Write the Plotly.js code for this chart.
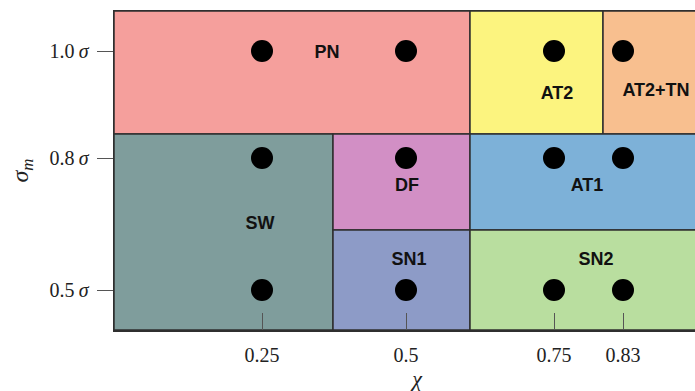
<!DOCTYPE html>
<html>
<head>
<meta charset="utf-8">
<script src="https://cdn.plot.ly/plotly-3.0.1.min.js"></script>
<style>
  html, body { margin: 0; padding: 0; overflow: hidden; background: #fff; }
  #chart { width: 720px; height: 391px; }
</style>
</head>
<body>
<div id="chart"></div>
<script>
// Column positions on the horizontal layout axis and their χ labels
const chiPos = [1.48, 2.92, 4.40, 5.09];
const chiLabels = ['0.25', '0.5', '0.75', '0.83'];

// Row positions on the vertical layout axis and their σ_m labels
const sigmaPos = [0.40, 1.72, 2.79];
const sigmaLabels = ['0.5\u2009<i>σ</i>', '0.8\u2009<i>σ</i>', '1.0\u2009<i>σ</i>'];

// Simulated parameter points (column index, row index)
const pointCol = [0, 1, 2, 3, 0, 1, 2, 3, 0, 1, 2, 3];
const pointRow = [2, 2, 2, 2, 1, 1, 1, 1, 0, 0, 0, 0];

// Phase regions: name, bounds and fill colour
const regionNames = ['PN', 'AT2', 'AT2+TN', 'SW', 'DF', 'SN1', 'AT1', 'SN2'];
const regionX0 = [0.00, 3.56, 4.89, 0.00, 2.19, 2.19, 3.56, 3.56];
const regionX1 = [3.56, 4.89, 7.00, 2.19, 3.56, 3.56, 7.00, 7.00];
const regionY0 = [1.96, 1.96, 1.96, 0.00, 1.00, 0.00, 1.00, 0.00];
const regionY1 = [3.19, 3.19, 3.19, 1.96, 1.96, 1.00, 1.96, 1.00];
const regionColors = ['#f59f9c', '#fcf47f', '#f8bf8f', '#7f9d9c', '#d28fc5', '#8d9bc7', '#7db1d8', '#b9de9f'];
const labelX = [2.13, 4.43, 5.42, 1.46, 2.93, 2.95, 4.73, 4.82];
const labelY = [2.77, 2.36, 2.39, 1.06, 1.44, 0.70, 1.44, 0.70];

const shapes = regionNames.map((n, i) => ({
  type: 'rect', xref: 'x', yref: 'y', layer: 'below',
  x0: regionX0[i], x1: regionX1[i], y0: regionY0[i], y1: regionY1[i],
  fillcolor: regionColors[i],
  line: { color: '#2f2f2f', width: 1.5 }
}));

const points = {
  type: 'scatter', mode: 'markers',
  x: pointCol.map(c => chiPos[c]),
  y: pointRow.map(r => sigmaPos[r]),
  marker: { color: '#000', size: 22 },
  hoverinfo: 'skip', showlegend: false
};

const labels = {
  type: 'scatter', mode: 'text',
  x: labelX, y: labelY, text: regionNames,
  textfont: { family: 'Liberation Sans, Arial, sans-serif', size: 18, color: '#111' },
  texttemplate: '<b>%{text}</b>',
  hoverinfo: 'skip', showlegend: false
};

const tickFont = { family: 'Liberation Serif, serif', size: 20, color: '#222' };

const layout = {
  width: 720, height: 391,
  margin: { l: 114, r: 0, t: 11, b: 61 },
  paper_bgcolor: '#fff', plot_bgcolor: '#fff',
  showlegend: false,
  shapes: shapes,
  xaxis: {
    range: [0, 6.06], showgrid: false, zeroline: false,
    tickmode: 'array', tickvals: chiPos, ticktext: chiLabels,
    ticks: 'inside', ticklen: 17, tickcolor: '#555', tickwidth: 1,
    ticklabelstandoff: 6,
    showline: true, linecolor: '#2f2f2f', linewidth: 1.5, mirror: true,
    tickfont: tickFont,
    title: { text: '<i>χ</i>', font: { family: 'Liberation Serif, serif', size: 22, color: '#222' }, standoff: 10 }
  },
  yaxis: {
    range: [0, 3.19], showgrid: false, zeroline: false,
    tickmode: 'array', tickvals: sigmaPos, ticktext: sigmaLabels,
    ticks: 'outside', ticklen: 16, tickcolor: '#555', tickwidth: 1,
    ticklabelstandoff: 4,
    showline: true, linecolor: '#2f2f2f', linewidth: 1.5, mirror: true,
    tickfont: tickFont,
    title: { text: '<i>σ</i><sub><i>m</i></sub>', font: { family: 'Liberation Serif, serif', size: 24, color: '#222' }, standoff: 14 }
  }
};

Plotly.newPlot('chart', [points, labels], layout, { staticPlot: true, displayModeBar: false });
</script>
</body>
</html>
